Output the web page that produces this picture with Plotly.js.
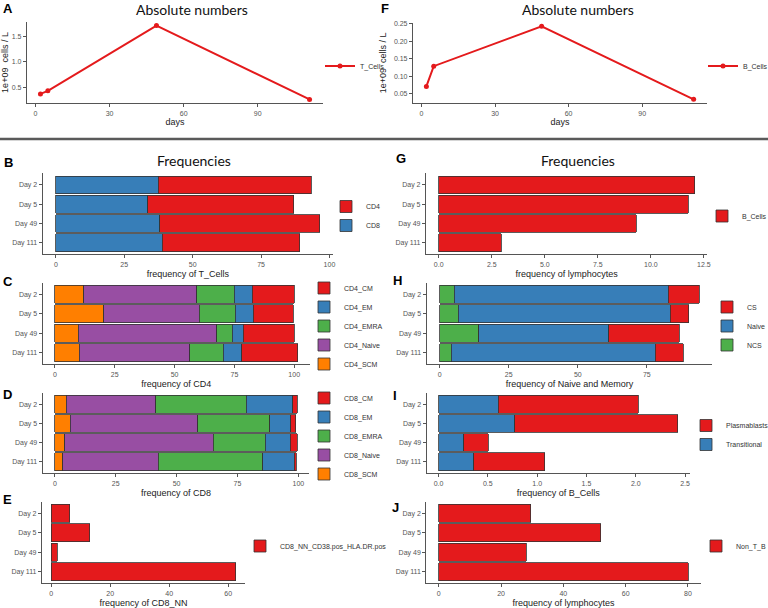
<!DOCTYPE html>
<html><head><meta charset="utf-8">
<script src="https://cdn.plot.ly/plotly-3.0.1.min.js"></script>
<style>html,body{margin:0;padding:0;background:#fff}#chart{width:768px;height:608px}</style>
</head><body><div id="chart"></div>
<script>
// ---- data ----
const days = [2, 5, 49, 111];
const dayLabels = ['Day 2', 'Day 5', 'Day 49', 'Day 111'];
const tCellsAbs = [0.37, 0.43, 1.72, 0.26];
const bCellsAbs = [0.071, 0.129, 0.243, 0.034];
const tCD8 = [37.4, 33.6, 38.0, 38.9];
const tCD4 = [55.9, 53.4, 58.5, 50.3];
const bCellsFreq = [12.06, 11.77, 9.30, 2.95];
const cd4SCM = [12.1, 20.5, 9.8, 10.2];
const cd4Naive = [47.2, 39.9, 57.8, 46.1];
const cd4EMRA = [15.6, 14.9, 6.5, 14.0];
const cd4EM = [7.5, 7.5, 4.7, 7.7];
const cd4CM = [17.6, 16.9, 21.2, 23.5];
const nmNCS = [5.3, 6.7, 14.1, 4.2];
const nmNaive = [77.4, 76.7, 47.1, 73.9];
const nmCS = [11.3, 6.7, 25.6, 10.1];
const cd8SCM = [4.6, 6.4, 4.1, 3.3];
const cd8Naive = [36.8, 52.2, 60.9, 39.2];
const cd8EMRA = [37.2, 29.7, 21.4, 42.9];
const cd8EM = [19.1, 8.6, 10.3, 13.0];
const cd8CM = [1.8, 2.1, 2.8, 0.8];
const bTransitional = [0.607, 0.771, 0.258, 0.359];
const bPlasmablasts = [1.417, 1.655, 0.248, 0.720];
const cd8NNact = [6.2, 13.0, 2.1, 62.6];
const nonTB = [29.5, 52.0, 28.1, 80.1];

// ---- helpers ----
const W = 768, H = 608;
const px = v => v / W;
const py = v => 1 - v / H;
const FONT = 'Arial, "Liberation Sans", sans-serif';
const TFONT = 'Lato, "Open Sans", sans-serif';
const RED = '#E41A1C', BLUE = '#377EB8', GREEN = '#4DAF4A', PURPLE = '#984EA3', ORANGE = '#FF7F00';
const ax = (p, n) => n === 1 ? p : p + n;
const leg = n => n === 1 ? 'legend' : 'legend' + n;

function lineTrace(vals, name, n) {
  return {type: 'scatter', mode: 'lines+markers', x: days, y: vals, name: name,
    line: {color: RED, width: 2}, marker: {color: RED, size: 5},
    xaxis: ax('x', n), yaxis: ax('y', n), legend: leg(n)};
}
function barTrace(vals, name, color, n) {
  return {type: 'bar', orientation: 'h', x: vals, y: dayLabels, name: name,
    marker: {color: color, line: {color: '#333', width: 0.8}},
    xaxis: ax('x', n), yaxis: ax('y', n), legend: leg(n)};
}

const data = [
  lineTrace(tCellsAbs, 'T_Cells', 1),
  lineTrace(bCellsAbs, 'B_Cells', 2),
  barTrace(tCD8, 'CD8', BLUE, 3), barTrace(tCD4, 'CD4', RED, 3),
  barTrace(bCellsFreq, 'B_Cells', RED, 4),
  barTrace(cd4SCM, 'CD4_SCM', ORANGE, 5), barTrace(cd4Naive, 'CD4_Naive', PURPLE, 5),
  barTrace(cd4EMRA, 'CD4_EMRA', GREEN, 5), barTrace(cd4EM, 'CD4_EM', BLUE, 5), barTrace(cd4CM, 'CD4_CM', RED, 5),
  barTrace(nmNCS, 'NCS', GREEN, 6), barTrace(nmNaive, 'Naive', BLUE, 6), barTrace(nmCS, 'CS', RED, 6),
  barTrace(cd8SCM, 'CD8_SCM', ORANGE, 7), barTrace(cd8Naive, 'CD8_Naive', PURPLE, 7),
  barTrace(cd8EMRA, 'CD8_EMRA', GREEN, 7), barTrace(cd8EM, 'CD8_EM', BLUE, 7), barTrace(cd8CM, 'CD8_CM', RED, 7),
  barTrace(bTransitional, 'Transitional', BLUE, 8), barTrace(bPlasmablasts, 'Plasmablasts', RED, 8),
  barTrace(cd8NNact, 'CD8_NN_CD38.pos_HLA.DR.pos', RED, 9),
  barTrace(nonTB, 'Non_T_B', RED, 10)
];

// panel geometry (pixels) and axis settings
const panels = [
  {n: 1, l: 27, r: 323, t: 22, b: 103, xr: [-3.45, 116.45], xd: 30, xf: '', yr: [0.19, 1.79], yd: 0.5, yf: '.1f',
   xt: 'days', xs: 0, yt: '1e+09 \u00a0cells / L', legX: 320, legY: 66},
  {n: 2, l: 413, r: 707, t: 22.7, b: 103, xr: [-3.45, 116.45], xd: 30, xf: '', yr: [0.0235, 0.2535], yd: 0.05, yf: '.2f',
   xt: 'days', xs: 0, yt: '1e+09 \u00a0cells / L', legX: 703, legY: 66},
  {n: 3, l: 42.7, r: 333, t: 173.3, b: 254.3, xr: [-4.8, 101.3], xd: 25, xf: '', xt: 'frequency of T_Cells', legX: 326, legY: 216},
  {n: 4, l: 426, r: 707.3, t: 173.3, b: 254.3, xr: [-0.6, 12.66], xd: 2.5, xf: '.1f', xt: 'frequency of lymphocytes', legX: 702, legY: 216},
  {n: 5, l: 42.7, r: 310, t: 282.7, b: 364.3, xr: [-5.1, 106.6], xd: 25, xf: '', xt: 'frequency of CD4', legX: 304, legY: 326},
  {n: 6, l: 426.7, r: 712.3, t: 282.7, b: 364.3, xr: [-4.7, 98.7], xd: 25, xf: '', xt: 'frequency of Naive and Memory', legX: 707, legY: 326},
  {n: 7, l: 42.7, r: 309.3, t: 392.7, b: 473.3, xr: [-5.0, 104.5], xd: 25, xf: '', xt: 'frequency of CD8', legX: 304, legY: 436},
  {n: 8, l: 426.7, r: 690, t: 392.7, b: 473.3, xr: [-0.12, 2.55], xd: 0.5, xf: '.1f', xt: 'frequency of B_Cells', legX: 686, legY: 435},
  {n: 9, l: 42, r: 245, t: 501.6, b: 583.3, xr: [-3.13, 65.7], xd: 20, xf: '', xt: 'frequency of CD8_NN', legX: 240, legY: 546},
  {n: 10, l: 426.3, r: 700.7, t: 501.6, b: 583.3, xr: [-4.0, 84.1], xd: 20, xf: '', xt: 'frequency of lymphocytes', legX: 696, legY: 546}
];

const AXC = '#555';
const tickFont = {family: FONT, size: 7, color: '#555'};
const titleFont = {family: FONT, size: 9, color: '#222'};

const layout = {
  width: W, height: H,
  margin: {l: 0, r: 0, t: 0, b: 0, pad: 0, autoexpand: false},
  paper_bgcolor: '#fff', plot_bgcolor: 'rgba(0,0,0,0)',
  barmode: 'stack', bargap: 0.08,
  font: {family: FONT, size: 8, color: '#333'},
  showlegend: true,
  shapes: [
    {type: 'line', xref: 'paper', yref: 'paper', x0: 0, x1: 1, y0: py(139), y1: py(139),
     line: {color: '#5a5a5a', width: 2.5}}
  ],
  annotations: []
};

panels.forEach(p => {
  const xk = p.n === 1 ? 'xaxis' : 'xaxis' + p.n;
  const yk = p.n === 1 ? 'yaxis' : 'yaxis' + p.n;
  layout[xk] = {
    domain: [px(p.l), px(p.r)], anchor: ax('y', p.n), range: p.xr, dtick: p.xd, tick0: 0, tickformat: p.xf,
    showline: true, linecolor: AXC, linewidth: 1.1, ticks: 'outside', ticklen: 3, tickcolor: AXC, tickwidth: 1,
    showgrid: false, zeroline: false, tickfont: tickFont, automargin: false,
    title: {text: p.xt, font: titleFont, standoff: (p.xs !== undefined ? p.xs : 3)}
  };
  const yax = {
    domain: [py(p.b), py(p.t)], anchor: ax('x', p.n),
    showline: true, linecolor: AXC, linewidth: 1.1, ticks: 'outside', ticklen: 3, tickcolor: AXC, tickwidth: 1,
    showgrid: false, zeroline: false, tickfont: tickFont, automargin: false
  };
  if (p.yr) {
    Object.assign(yax, {range: p.yr, dtick: p.yd, tick0: 0, tickformat: p.yf,
      title: {text: p.yt, font: titleFont, standoff: 5}});
  } else {
    Object.assign(yax, {type: 'category', categoryorder: 'array', categoryarray: dayLabels, range: [3.6, -0.6]});
  }
  layout[yk] = yax;
  layout[leg(p.n)] = {
    x: px(p.legX), y: py(p.legY), xanchor: 'left', yanchor: 'middle', xref: 'paper', yref: 'paper',
    bgcolor: 'rgba(0,0,0,0)', borderwidth: 0, traceorder: 'reversed',
    font: {family: FONT, size: 7, color: '#333'}
  };
});

// titles and panel letters
const titles = [
  {text: 'Absolute numbers', x: 192, y: 9.5},
  {text: 'Absolute numbers', x: 578, y: 9.5},
  {text: 'Frequencies', x: 193.7, y: 160.5},
  {text: 'Frequencies', x: 577.7, y: 160.5}
];
titles.forEach(t => layout.annotations.push({
  text: t.text, xref: 'paper', yref: 'paper', x: px(t.x), y: py(t.y), xanchor: 'center', yanchor: 'middle',
  showarrow: false, borderpad: 0, font: {family: TFONT, size: 14, color: '#111'}
}));
const letters = [
  ['A', 1.5, 9], ['F', 380, 9], ['B', 2.5, 162.7], ['G', 395, 158], ['C', 1.5, 281], ['H', 391.5, 280.5],
  ['D', 1.5, 394], ['I', 391.5, 395], ['E', 1.5, 500], ['J', 390.5, 507.5]
];
letters.forEach(([t, x, y]) => layout.annotations.push({
  text: '<b>' + t + '</b>', xref: 'paper', yref: 'paper', x: px(x), y: py(y), xanchor: 'left', yanchor: 'middle',
  showarrow: false, borderpad: 0, font: {family: FONT, size: 13, color: '#000'}
}));

Plotly.newPlot('chart', data, layout, {staticPlot: true, displayModeBar: false});
</script>
</body></html>
